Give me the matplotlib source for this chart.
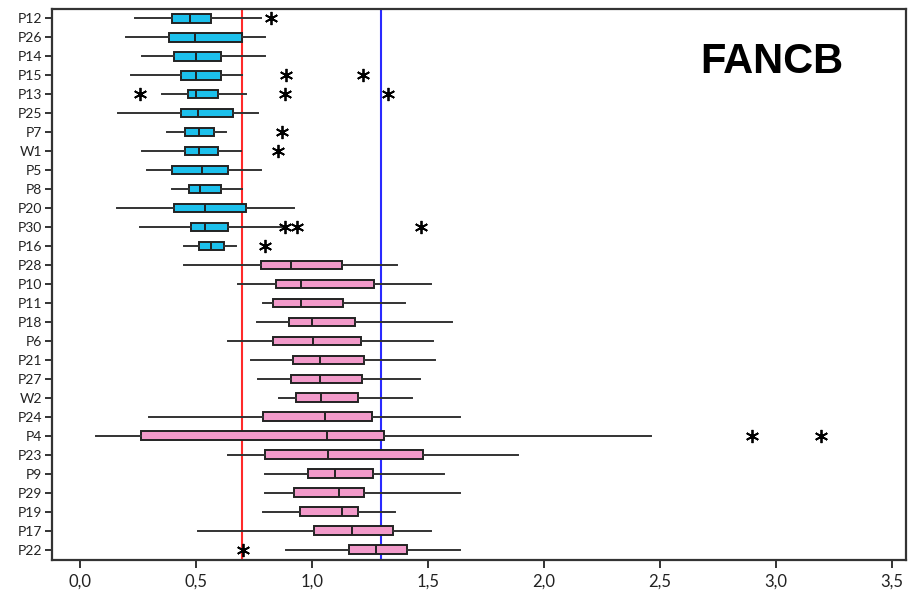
import matplotlib
matplotlib.use("Agg")
from matplotlib import pyplot as plt
from matplotlib.ticker import FuncFormatter

# rows from top to bottom
labels = ["P12", "P26", "P14", "P15", "P13", "P25", "P7", "W1", "P5", "P8",
          "P20", "P30", "P16", "P28", "P10", "P11", "P18", "P6", "P21", "P27",
          "W2", "P24", "P4", "P23", "P9", "P29", "P19", "P17", "P22"]
n_low = 13  # first 13 rows are the cyan group

whislo = [0.24, 0.20, 0.27, 0.22, 0.355, 0.165, 0.375, 0.27, 0.29, 0.40,
          0.16, 0.26, 0.45, 0.45, 0.68, 0.79, 0.765, 0.64, 0.74, 0.77,
          0.86, 0.30, 0.07, 0.64, 0.80, 0.80, 0.79, 0.51, 0.89]
q1 = [0.40, 0.385, 0.405, 0.435, 0.465, 0.435, 0.455, 0.455, 0.40, 0.47,
      0.405, 0.48, 0.515, 0.78, 0.845, 0.835, 0.90, 0.835, 0.92, 0.91,
      0.93, 0.79, 0.265, 0.80, 0.985, 0.925, 0.95, 1.01, 1.16]
med = [0.475, 0.495, 0.50, 0.50, 0.50, 0.51, 0.515, 0.515, 0.525, 0.52,
       0.54, 0.54, 0.565, 0.91, 0.955, 0.955, 1.00, 1.005, 1.035, 1.035,
       1.04, 1.055, 1.065, 1.07, 1.10, 1.115, 1.13, 1.175, 1.275]
q3 = [0.565, 0.70, 0.61, 0.61, 0.595, 0.66, 0.58, 0.595, 0.64, 0.61,
      0.715, 0.64, 0.62, 1.13, 1.27, 1.135, 1.185, 1.21, 1.225, 1.215,
      1.20, 1.26, 1.31, 1.48, 1.265, 1.225, 1.20, 1.35, 1.41]
whishi = [0.78, 0.80, 0.80, 0.70, 0.715, 0.77, 0.63, 0.695, 0.78, 0.70,
          0.925, 0.87, 0.675, 1.365, 1.515, 1.40, 1.605, 1.52, 1.53, 1.465,
          1.43, 1.64, 2.46, 1.89, 1.57, 1.64, 1.36, 1.515, 1.64]
outliers = {
    "P12": [0.825],
    "P15": [0.89, 1.22],
    "P13": [0.26, 0.885, 1.33],
    "P7": [0.87],
    "W1": [0.855],
    "P30": [0.885, 0.935, 1.47],
    "P16": [0.80],
    "P4": [2.895, 3.195],
    "P22": [0.705],
}

red_ref = 0.7
blue_ref = 1.3
title = "FANCB"

cyan = "#1CC0EC"
pink = "#F29ACA"
edge = "#222222"

stats = []
for i, lab in enumerate(labels):
    stats.append({
        "label": lab, "whislo": whislo[i], "q1": q1[i], "med": med[i],
        "q3": q3[i], "whishi": whishi[i], "fliers": outliers.get(lab, []),
    })

fig = plt.figure(figsize=(9.08, 5.93), dpi=100)
ax = fig.add_axes([0.057, 0.056, 0.941, 0.929])

positions = list(range(len(labels)))
bp = ax.bxp(stats, positions=positions, vert=False, widths=0.46,
            patch_artist=True, showcaps=False,
            boxprops=dict(edgecolor=edge, linewidth=1.4),
            medianprops=dict(color=edge, linewidth=1.4),
            whiskerprops=dict(color="#333333", linewidth=1.4),
            flierprops=dict(marker=(6, 2, 0), markersize=9.5,
                            markeredgecolor="black", markeredgewidth=1.3,
                            linestyle="none"))
for i, box in enumerate(bp["boxes"]):
    box.set_facecolor(cyan if i < n_low else pink)

ax.axvline(red_ref, color="#FF2A2A", linewidth=1.5, zorder=0)
ax.axvline(blue_ref, color="#2A2AFF", linewidth=1.5, zorder=0)

ax.set_xlim(-0.12, 3.56)
ax.set_ylim(len(labels) - 0.47, -0.49)
ax.set_yticks(positions)
ax.set_yticklabels(labels, fontsize=10, family="Lato")
ax.set_xticks([0, 0.5, 1.0, 1.5, 2.0, 2.5, 3.0, 3.5])
ax.xaxis.set_major_formatter(FuncFormatter(lambda v, p: f"{v:.1f}".replace(".", ",")))
for t in ax.get_xticklabels():
    t.set_fontsize(12)
    t.set_family("Lato")
ax.tick_params(axis="both", direction="out", color="#333333", width=1.4,
               labelcolor="#222222")
ax.tick_params(axis="y", length=5, pad=2)
ax.tick_params(axis="x", length=6, pad=4)
for s in ax.spines.values():
    s.set_color("#333333")
    s.set_linewidth(1.6)

fig.text(772 / 908, 1 - 62 / 593, title, fontsize=30, fontweight="bold",
         family="Liberation Sans", ha="center", va="center")

fig.savefig("out.png", dpi=100)
